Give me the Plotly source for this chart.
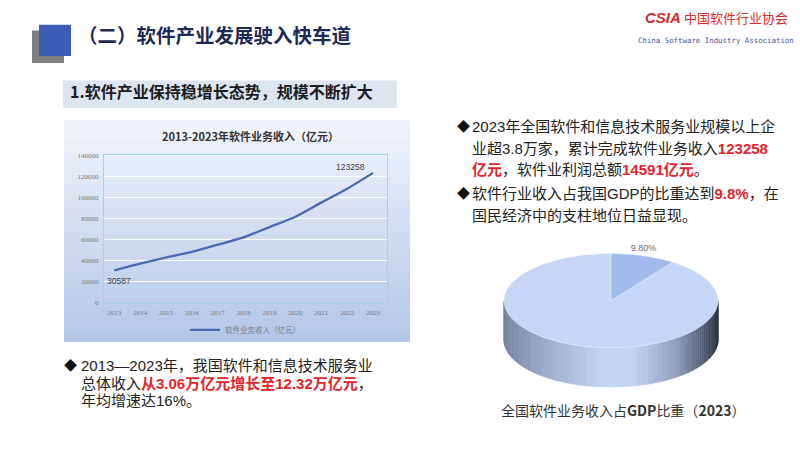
import numpy as np
import plotly.graph_objects as go

# ---------------- data ----------------
years = ["2013", "2014", "2015", "2016", "2017", "2018", "2019", "2020", "2021", "2022", "2023"]
revenue = [30587, 37026, 42848, 48232, 55037, 61909, 71768, 81616, 94994, 108126, 123258]
y_ticks = [0, 20000, 40000, 60000, 80000, 100000, 120000, 140000]
series_name = "软件业务收入（亿元）"
share_labels = ["软件业务收入", "其他"]
gdp_share = [9.8, 90.2]

W, H = 800, 450
def px(x):
    return x / W
def py(y):
    return 1 - y / H

FONT = "Noto Sans CJK SC"
BODY = "Liberation Sans, Noto Sans CJK SC"
fig = go.Figure()

# ---------------- line chart ----------------
xi = list(range(len(years)))
fig.add_trace(go.Scatter(
    x=xi, y=revenue, mode="lines", name=series_name,
    line=dict(color="#4a69b3", width=2.3, shape="spline", smoothing=0.6),
    xaxis="x", yaxis="y", showlegend=True, hoverinfo="skip"))

# ---------------- 3D-ish pie ----------------
rx, ry, depth = 1.0, 48 / 107, 40 / 107

def lerp_color(x):
    stops = [(-1.0, (118, 132, 162)), (-0.6, (158, 173, 204)), (-0.1, (196, 211, 242)),
             (0.2, (198, 212, 242)), (0.6, (146, 160, 190)), (0.85, (88, 98, 122)),
             (1.0, (40, 46, 62))]
    for (x0, c0), (x1, c1) in zip(stops[:-1], stops[1:]):
        if x0 <= x <= x1:
            t = (x - x0) / (x1 - x0)
            c = [round(a + (b - a) * t) for a, b in zip(c0, c1)]
            return "rgb(%d,%d,%d)" % tuple(c)
    return "rgb(40,46,62)"

# side (front half) as shaded strips
N = 90
th = np.linspace(np.pi / 2, 3 * np.pi / 2, N + 1)
for a, b in zip(th[:-1], th[1:]):
    xs = [rx * np.sin(a), rx * np.sin(b), rx * np.sin(b), rx * np.sin(a), rx * np.sin(a)]
    ys = [ry * np.cos(a), ry * np.cos(b), ry * np.cos(b) - depth, ry * np.cos(a) - depth, ry * np.cos(a)]
    col = lerp_color(rx * np.sin((a + b) / 2))
    fig.add_trace(go.Scatter(x=xs, y=ys, mode="lines", fill="toself", fillcolor=col,
                             line=dict(width=0.6, color=col), xaxis="x2", yaxis="y2",
                             showlegend=False, hoverinfo="skip"))

# top face slices (clockwise from 12 o'clock)
total = sum(gdp_share)
slice_colors = ["#a2bbec", "#c6d6f6"]
start = 0.0
slices = []
for v, col in zip(gdp_share, slice_colors):
    ang = v / total * 2 * np.pi
    slices.append((start, start + ang, col))
    start += ang
for s, e, col in slices[::-1]:
    t = np.linspace(s, e, 200)
    xs = [0] + list(rx * np.sin(t)) + [0]
    ys = [0] + list(ry * np.cos(t)) + [0]
    fig.add_trace(go.Scatter(x=xs, y=ys, mode="lines", fill="toself", fillcolor=col,
                             line=dict(width=0.6, color="rgba(235,242,255,0.9)"),
                             xaxis="x2", yaxis="y2", showlegend=False, hoverinfo="skip"))

# label for the small slice
mid = (slices[0][0] + slices[0][1]) / 2
fig.add_trace(go.Scatter(x=[rx * np.sin(mid)], y=[ry * np.cos(mid) + 0.02], mode="text",
                         text=["%.2f%%" % gdp_share[0]], textposition="top center",
                         textfont=dict(size=9, color="#6e6e6e", family="Liberation Sans"),
                         xaxis="x2", yaxis="y2", showlegend=False, hoverinfo="skip"))

# ---------------- shapes ----------------
shapes = []
# chart panel gradient
top, bot, left, right = 118, 344, 64, 410
nb = 45
c_top, c_bot = (241, 244, 250), (180, 198, 232)
for i in range(nb):
    y0 = top + (bot - top) * i / nb
    y1 = top + (bot - top) * (i + 1) / nb + 0.6
    t = i / (nb - 1)
    c = tuple(round(a + (b - a) * t) for a, b in zip(c_top, c_bot))
    shapes.append(dict(type="rect", xref="paper", yref="paper", layer="below",
                       x0=px(left), x1=px(right), y0=py(min(y1, bot)), y1=py(y0),
                       line=dict(width=0), fillcolor="rgb(%d,%d,%d)" % c))
# title icon
shapes.append(dict(type="rect", xref="paper", yref="paper", x0=px(32), x1=px(64), y0=py(60), y1=py(27),
                   line=dict(width=0), fillcolor="#7f7f7f", layer="below"))
shapes.append(dict(type="rect", xref="paper", yref="paper", x0=px(39), x1=px(71), y0=py(53), y1=py(21),
                   line=dict(width=0), fillcolor="#3b5db3", layer="below"))
# subtitle box
shapes.append(dict(type="rect", xref="paper", yref="paper", x0=px(63), x1=px(397), y0=py(106), y1=py(78),
                   line=dict(width=0), fillcolor="#dde5f1", layer="below"))

# ---------------- annotations ----------------
ann = []
def text(x, y, s, size, color="#222222", xanchor="left", family=FONT, align="left"):
    ann.append(dict(xref="paper", yref="paper", x=px(x), y=py(y), text=s, showarrow=False,
                    xanchor=xanchor, yanchor="middle", align=align,
                    font=dict(size=size, color=color, family=family)))

# data labels on first and last points (anchored to data)
lab_font = dict(size=8.5, color="#404040", family="Liberation Sans")
ann.append(dict(xref="x", yref="y", x=xi[0], y=revenue[0], text=str(revenue[0]), showarrow=False,
                xanchor="center", yanchor="top", xshift=5, yshift=-4, font=lab_font))
ann.append(dict(xref="x", yref="y", x=xi[-1], y=revenue[-1], text=str(revenue[-1]), showarrow=False,
                xanchor="right", yanchor="bottom", xshift=-6, yshift=-1, font=lab_font))

RED = "#e3242b"
def red(s):
    return "<b><span style='color:%s'>%s</span></b>" % (RED, s)

text(76, 31, "<b>（二）软件产业发展驶入快车道</b>", 19.5, "#1e2a56")
text(68, 89, "<b>1.软件产业保持稳增长态势，规模不断扩大</b>", 16, "#1c1c1c")

# logo
text(683, 14, "<b><i>CSIA</i></b>", 15, "#d42a2a", xanchor="right", family="Liberation Sans")
text(790, 14, "中国软件行业协会", 13, "#d42a2a", xanchor="right")
text(796, 37, "China Software Industry Association", 7.4, "#3a5a9e", xanchor="right",
     family="DejaVu Sans Mono")

# chart title
text(250, 134, "<b>2013-2023年软件业务收入（亿元）</b>", 11, "#333333", xanchor="center")

# right text
text(455, 125, "◆", 13, "#111111", family=BODY)
text(470, 125, "2023年全国软件和信息技术服务业规模以上企", 15, family=BODY)
text(470, 147, "业超3.8万家，累计完成软件业务收入" + red("123258"), 15, family=BODY)
text(470, 169, red("亿元") + "，软件业利润总额" + red("14591亿元") + "。", 15, family=BODY)
text(455, 193, "◆", 13, "#111111", family=BODY)
text(470, 193, "软件行业收入占我国GDP的比重达到" + red("9.8%") + "，在", 15, family=BODY)
text(470, 215, "国民经济中的支柱地位日益显现。", 15, family=BODY)

# bottom-left text
text(62, 368, "◆", 13, "#111111", family=BODY)
text(79, 368, "2013—2023年，我国软件和信息技术服务业", 15, family=BODY)
text(79, 386, "总体收入" + red("从3.06万亿元增长至12.32万亿元") + "，", 15, family=BODY)
text(79, 404, "年均增速达16%。", 15, family=BODY)

# pie title
text(623, 413, "全国软件业务收入占<b>GDP</b>比重（<b>2023</b>）", 14, "#333333", xanchor="center")

# ---------------- layout ----------------
fig.update_layout(
    width=W, height=H, margin=dict(l=0, r=0, t=0, b=0),
    paper_bgcolor="white", plot_bgcolor="rgba(0,0,0,0)",
    shapes=shapes, annotations=ann,
    xaxis=dict(domain=[px(104), px(387)], range=[-0.398, 10.54], tickmode="array",
               tickvals=xi, ticktext=years, showgrid=False, zeroline=False,
               showline=True, mirror=True, linecolor="#a6d4dc", linewidth=1, ticks="",
               ticklabelstandoff=3,
               tickfont=dict(size=7, color="#7a7a7a", family="Liberation Serif"), anchor="y"),
    yaxis=dict(domain=[py(304), py(154)], range=[0, 140000], tickmode="array", tickvals=y_ticks,
               ticktext=[str(v) for v in y_ticks], showgrid=True, gridcolor="rgba(255,255,255,0.85)",
               gridwidth=1, zeroline=False, showline=True, mirror=True, linecolor="#a6d4dc",
               linewidth=1, ticks="", ticklabelstandoff=3,
               tickfont=dict(size=7, color="#7a7a7a", family="Liberation Serif"),
               anchor="x"),
    xaxis2=dict(domain=[px(611 - 120), px(611 + 120)], range=[-120 / 107, 120 / 107], visible=False,
                anchor="y2"),
    yaxis2=dict(domain=[py(400), py(240)], range=[(302 - 400) / 107, (302 - 240) / 107], visible=False,
                anchor="x2"),
    legend=dict(x=px(185), y=py(317), xanchor="left", yanchor="top", orientation="h",
                bgcolor="rgba(0,0,0,0)", font=dict(size=7.5, color="#7a7a7a", family=FONT),
                itemwidth=30),
    hovermode=False,
)

fig.write_html("out.html", config={"displayModeBar": False},
               post_script="document.body.style.margin='0';document.body.style.padding='0';")
